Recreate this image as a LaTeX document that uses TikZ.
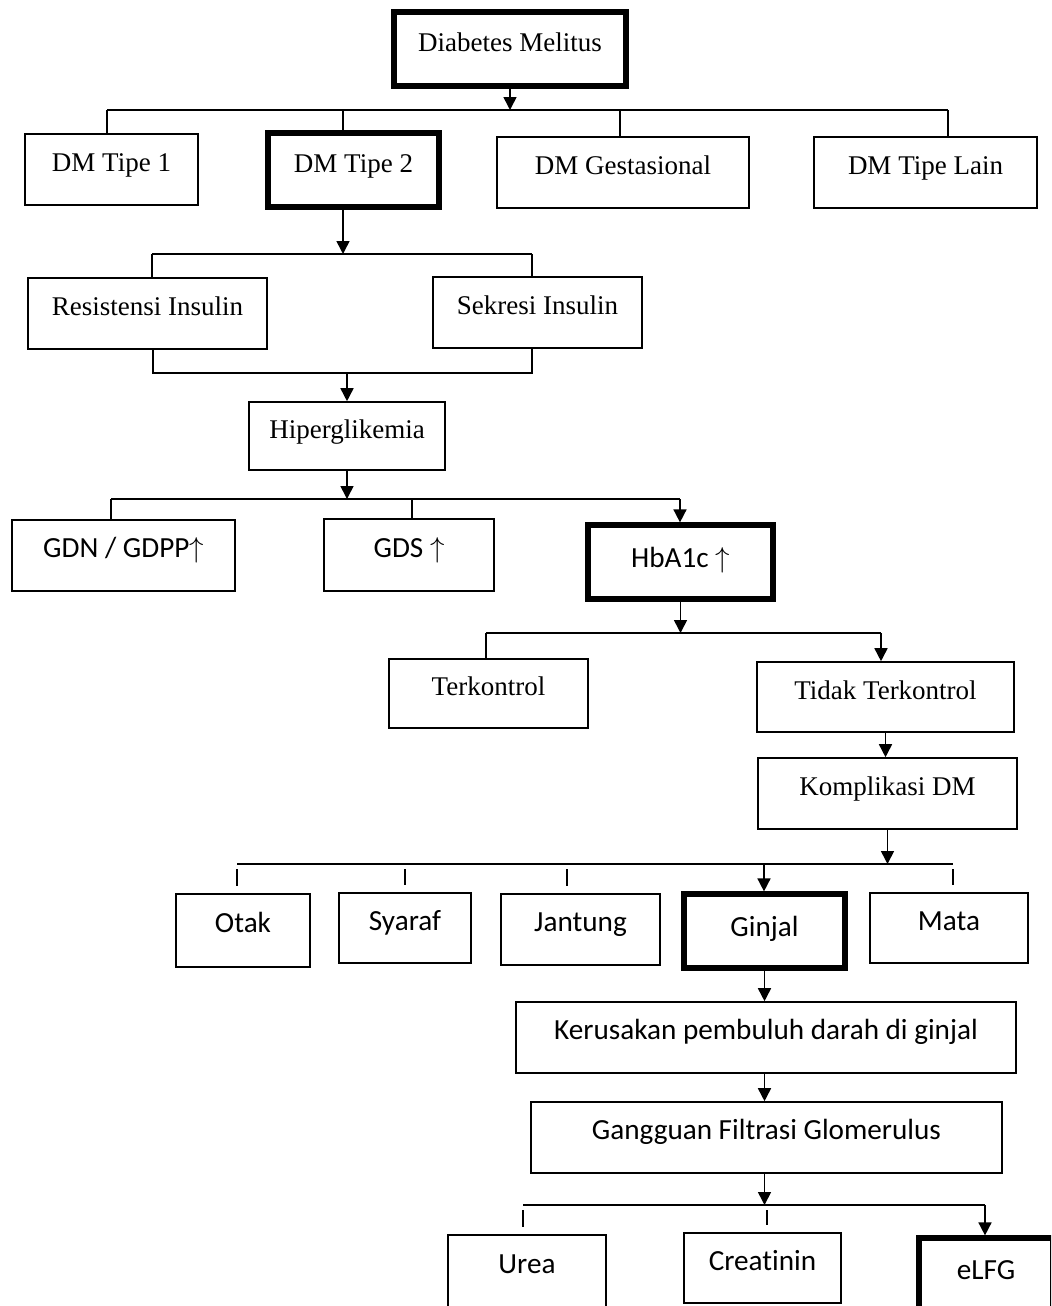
\documentclass[tikz,border=0pt]{standalone}
\usepackage{fontspec}
\setmainfont{Liberation Serif}
\newfontfamily\calibfont[Ligatures=NoCommon]{Carlito}
\usetikzlibrary{arrows.meta}

\begin{document}
\begin{tikzpicture}[
  x=0.5pt, y=-0.5pt,
  every node/.style={font=\fontsize{13.5}{16}\selectfont},
  box/.style={draw, line width=0.8pt, inner sep=0pt, align=center,
              text height=9.5pt, text depth=7.5pt},
  thickbox/.style={box, line width=2.6pt},
  sans/.style={font=\calibfont\fontsize{14.6}{17}\selectfont},
  lowtext/.style={text depth=4pt},
  link/.style={line width=0.8pt},
  bus/.style={line width=1.1pt},
  flow/.style={line width=0.8pt, -{Triangle[length=6.5pt, width=6.5pt]}},
  stub/.style={line width=0.8pt, shorten <=2.5pt, shorten >=3.5pt},
]

\useasboundingbox (0,0) rectangle (1051,1306);
\clip (0,0) rectangle (1051,1306);

%% ── Boxes ───────────────────────────────────────────────────────────────────
\node[thickbox, minimum width=116pt, minimum height=37pt] (dm) at (510,49) {Diabetes Melitus};

\node[box, minimum width=86.5pt, minimum height=35.5pt] (t1) at (111.5,169.5) {DM Tipe 1};
\node[thickbox, minimum width=85.5pt, minimum height=37pt] (t2) at (353.5,170) {DM Tipe 2};
\node[box, minimum width=126pt, minimum height=35.5pt] (tg) at (623,172.5) {DM Gestasional};
\node[box, minimum width=111.5pt, minimum height=35.5pt] (tl) at (925.5,172.5) {DM Tipe Lain};

\node[box, minimum width=119.5pt, minimum height=35.5pt] (ri) at (147.5,313.5) {Resistensi Insulin};
\node[box, minimum width=104.5pt, minimum height=35.5pt] (si) at (537.5,312.5) {Sekresi Insulin};

\node[box, minimum width=98pt, minimum height=34pt] (hg) at (347,436) {Hiperglikemia};

\node[box, sans, minimum width=111.5pt, minimum height=35.5pt] (gd) at (123.5,555.5) {GDN / GDPP$\uparrow$};
\node[box, sans, minimum width=85pt, minimum height=36pt] (gs) at (409,555) {GDS $\uparrow$};
\node[thickbox, sans, lowtext, minimum width=92.5pt, minimum height=37pt] (hb) at (680.5,562) {HbA1c $\uparrow$};

\node[box, minimum width=99.5pt, minimum height=34.5pt] (tk) at (488.5,693.5) {Terkontrol};
\node[box, minimum width=128.5pt, minimum height=35pt] (tt) at (885.5,697) {Tidak Terkontrol};
\node[box, minimum width=129.5pt, minimum height=35.5pt] (kp) at (887.5,793.5) {Komplikasi DM};

\node[box, sans, minimum width=67pt, minimum height=36.5pt] (ot) at (243,930.5) {Otak};
\node[box, sans, minimum width=66pt, minimum height=35pt] (sy) at (405,928) {Syaraf};
\node[box, sans, minimum width=79.5pt, minimum height=35.5pt] (jt) at (580.5,929.5) {Jantung};
\node[thickbox, sans, lowtext, minimum width=80.5pt, minimum height=37pt] (gj) at (764.5,931) {Ginjal};
\node[box, sans, minimum width=79pt, minimum height=35pt] (mt) at (949,928) {Mata};

\node[box, sans, minimum width=250pt, minimum height=35.5pt] (kr) at (766,1037.5) {Kerusakan pembuluh darah di ginjal};
\node[box, sans, minimum width=235.5pt, minimum height=35.5pt] (gf) at (766.5,1137.5) {Gangguan Filtrasi Glomerulus};

\node[box, sans, minimum width=79pt, minimum height=36pt] (ur) at (527,1271) {Urea};
\node[box, sans, minimum width=78.5pt, minimum height=35pt] (cr) at (762.5,1268) {Creatinin};
\node[thickbox, sans, lowtext, minimum width=67pt, minimum height=36pt] (el) at (986,1274) {eLFG};

%% ── Level 1: Diabetes Melitus -> types ──────────────────────────────────────
\coordinate (b1w) at (107,110);
\coordinate (b1b) at (343,110);
\coordinate (b1c) at (620,110);
\coordinate (b1e) at (948,110);
\draw[bus] (b1w) -- (b1e);
\draw[flow] (dm.south) -- (dm.south |- b1w);
\draw[link] (b1w) -- (b1w |- t1.north);
\draw[link] (b1b) -- (b1b |- t2.north);
\draw[link] (b1c) -- (b1c |- tg.north);
\draw[link] (b1e) -- (b1e |- tl.north);

%% ── Level 2: DM Tipe 2 -> causes -> Hiperglikemia ───────────────────────────
\coordinate (b2w) at (152,254);
\coordinate (b2m) at (343,254);
\coordinate (b2e) at (532,254);
\draw[flow] (t2.south -| b2m) -- (b2m);
\draw[bus] (b2w) -- (b2e);
\draw[link] (b2w) -- (b2w |- ri.north);
\draw[link] (b2e) -- (b2e |- si.north);

\coordinate (b3w) at (153,373);
\coordinate (b3m) at (347,373);
\coordinate (b3e) at (532,373);
\draw[bus] (ri.south -| b3w) -- (b3w) -- (b3e) -- (si.south -| b3e);
\draw[flow] (b3m) -- (b3m |- hg.north);

%% ── Level 3: Hiperglikemia -> tests ─────────────────────────────────────────
\coordinate (b4w) at (111,499);
\coordinate (b4g) at (412,499);
\coordinate (b4e) at (680,499);
\draw[flow] (hg.south) -- (hg.south |- b4w);
\draw[bus] (b4w) -- (b4e);
\draw[link] (b4w) -- (b4w |- gd.north);
\draw[link] (b4g) -- (b4g |- gs.north);
\draw[flow] (b4e) -- (b4e |- hb.north);

%% ── Level 4: HbA1c -> control ───────────────────────────────────────────────
\coordinate (b5w) at (486,633);
\coordinate (b5e) at (881,633);
\draw[flow] (hb.south) -- (hb.south |- b5w);
\draw[bus] (b5w) -- (b5e);
\draw[link] (b5w) -- (b5w |- tk.north);
\draw[flow] (b5e) -- (b5e |- tt.north);
\draw[flow] (tt.south) -- (tt.south |- kp.north);

%% ── Level 5: complications ──────────────────────────────────────────────────
\coordinate (s1) at (237,864);
\coordinate (s2) at (405,864);
\coordinate (s3) at (567,864);
\coordinate (b6g) at (764,864);
\coordinate (s5) at (953,864);
\draw[flow] (kp.south) -- (kp.south |- s1);
\draw[bus] (s1) -- (s5);
\draw[stub] (s1) -- (s1 |- ot.north);
\draw[stub] (s2) -- (s2 |- sy.north);
\draw[stub] (s3) -- (s3 |- jt.north);
\draw[flow] (b6g) -- (b6g |- gj.north);
\draw[stub] (s5) -- (s5 |- mt.north);

%% ── Level 6: Ginjal -> kidney chain ─────────────────────────────────────────
\draw[flow] (gj.south) -- (gj.south |- kr.north);
\draw[flow] (kr.south -| gj.south) -- (gj.south |- gf.north);

\coordinate (b7w) at (523,1205);
\coordinate (b7c) at (767,1205);
\coordinate (b7e) at (985,1205);
\draw[flow] (gf.south -| gj.south) -- (gj.south |- b7w);
\draw[bus] (b7w) -- (b7e);
\draw[stub] (b7w) -- (b7w |- ur.north);
\draw[stub] (b7c) -- (b7c |- cr.north);
\draw[flow] (b7e) -- (b7e |- el.north);

\end{tikzpicture}
\end{document}
